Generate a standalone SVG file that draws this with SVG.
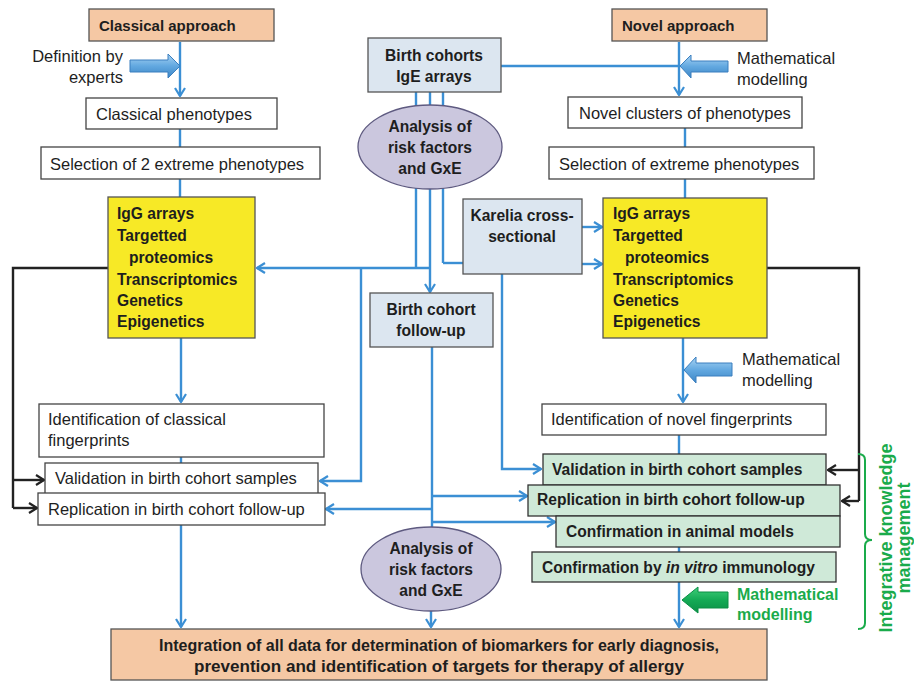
<svg xmlns="http://www.w3.org/2000/svg" width="914" height="683" viewBox="0 0 914 683">
<style>
text{font-family:"Liberation Sans",Arial,sans-serif;fill:#1e1e1e}
.r{font-size:16.5px}
.b{font-size:15.6px;font-weight:bold}
.h{font-size:15px;font-weight:bold}
.c{text-anchor:middle}
.peach{fill:#f5c8a4;stroke:#555;stroke-width:1.3}
.wh{fill:#fff;stroke:#444;stroke-width:1.3}
.lb{fill:#dce6f0;stroke:#555;stroke-width:1.3}
.ye{fill:#f7e926;stroke:#555;stroke-width:1.3}
.gr{fill:#cfe9d8;stroke:#333;stroke-width:1.3}
.el{fill:#cbc7de;stroke:#5e5a80;stroke-width:1.3}
.bl{fill:none;stroke:#3b8fd4;stroke-width:2.4}
.bk{fill:none;stroke:#222;stroke-width:2.4}
.gt{fill:#1aab4b;font-weight:bold}
</style>
<defs>
<marker id="ab" viewBox="0 0 10 12" refX="9" refY="6" markerWidth="10" markerHeight="12" markerUnits="userSpaceOnUse" orient="auto"><path d="M1,1 L9,6 L1,11" fill="none" stroke="#3b8fd4" stroke-width="2.2"/></marker>
<marker id="ak" viewBox="0 0 10 12" refX="9" refY="6" markerWidth="10" markerHeight="12" markerUnits="userSpaceOnUse" orient="auto"><path d="M1,1 L9,6 L1,11" fill="none" stroke="#222" stroke-width="2.2"/></marker>
<linearGradient id="gb" x1="0" y1="0" x2="0" y2="1"><stop offset="0" stop-color="#a8d3f3"/><stop offset="0.5" stop-color="#62a8e0"/><stop offset="1" stop-color="#3d86c6"/></linearGradient>
<linearGradient id="gg" x1="0" y1="0" x2="0" y2="1"><stop offset="0" stop-color="#3fcf7a"/><stop offset="0.5" stop-color="#14aa55"/><stop offset="1" stop-color="#0a8f45"/></linearGradient>
</defs>

<g id="connectors">
<path class="bl" d="M180,42 V96" marker-end="url(#ab)"/>
<path class="bl" d="M180,129 V147 M180,179 V197"/>
<path class="bl" d="M181,338 V402" marker-end="url(#ab)"/>
<path class="bl" d="M181,457 V463"/>
<path class="bl" d="M181,525 V627" marker-end="url(#ab)"/>
<path class="bl" d="M679,42 V95" marker-end="url(#ab)"/>
<path class="bl" d="M501,66 H679"/>
<path class="bl" d="M685,128 V147 M685,179 V198"/>
<path class="bl" d="M683,338 V402" marker-end="url(#ab)"/>
<path class="bl" d="M679,435 V454 M679,547 V552"/>
<path class="bl" d="M679,582 V627" marker-end="url(#ab)"/>
<path class="bl" d="M416,92 V268 M430,92 V268 M443,92 V263"/>
<path class="bl" d="M430,268 H257" marker-end="url(#ab)"/>
<path class="bl" d="M430,268 V292" marker-end="url(#ab)"/>
<path class="bl" d="M361,268 V481 H320" marker-end="url(#ab)"/>
<path class="bl" d="M443,263 H463"/>
<path class="bl" d="M582,227 H602" marker-end="url(#ab)"/>
<path class="bl" d="M582,264 H602" marker-end="url(#ab)"/>
<path class="bl" d="M502,274 V469 H541" marker-end="url(#ab)"/>
<path class="bl" d="M432,347 V530"/>
<path class="bl" d="M432,496 H527" marker-end="url(#ab)"/>
<path class="bl" d="M432,509 H326" marker-end="url(#ab)"/>
<path class="bl" d="M432,522 H555" marker-end="url(#ab)"/>
<path class="bl" d="M431,611 V627" marker-end="url(#ab)"/>
<path class="bk" d="M108,268 H13 V508"/>
<path class="bk" d="M13,480 H44" marker-end="url(#ak)"/>
<path class="bk" d="M13,508 H37" marker-end="url(#ak)"/>
<path class="bk" d="M767,268 H859 V501"/>
<path class="bk" d="M859,470 H828" marker-end="url(#ak)"/>
<path class="bk" d="M859,501 H842" marker-end="url(#ak)"/>
</g>

<g id="arrow-experts">
<path d="M130,60 H168 V54 L180,66 L168,78 V72 H130 Z" fill="url(#gb)" stroke="#3a7fbf" stroke-width="1"/>
<text class="r" x="123" y="62" text-anchor="end">Definition by</text>
<text class="r" x="123" y="83" text-anchor="end">experts</text>
</g>
<g id="arrow-math1">
<path d="M728,61 H691 V55 L680,66 L691,78 V72 H728 Z" fill="url(#gb)" stroke="#3a7fbf" stroke-width="1"/>
<text class="r" x="737" y="64">Mathematical</text>
<text class="r" x="737" y="85">modelling</text>
</g>
<g id="arrow-math2">
<path d="M732,363 H696 V357 L684,370 L696,383 V376 H732 Z" fill="url(#gb)" stroke="#3a7fbf" stroke-width="1"/>
<text class="r" x="742" y="365">Mathematical</text>
<text class="r" x="742" y="386">modelling</text>
</g>
<g id="arrow-math3">
<path d="M728,592 H698 V587 L682,600 L698,613 V608 H728 Z" fill="url(#gg)" stroke="#0a8f45" stroke-width="1"/>
<text class="gt" x="737" y="600" font-size="16">Mathematical</text>
<text class="gt" x="737" y="620" font-size="16">modelling</text>
</g>

<g id="classical-approach"><rect class="peach" x="89" y="9" width="185" height="32"/><text class="h" x="99" y="31">Classical approach</text></g>
<g id="novel-approach"><rect class="peach" x="612" y="9" width="155" height="32"/><text class="h" x="622" y="31">Novel approach</text></g>
<g id="classical-phenotypes"><rect class="wh" x="86" y="98" width="191" height="31"/><text class="r" x="96" y="120">Classical phenotypes</text></g>
<g id="selection-2"><rect class="wh" x="41" y="147" width="279" height="32"/><text class="r" x="50" y="170">Selection of 2 extreme phenotypes</text></g>
<g id="novel-clusters"><rect class="wh" x="568" y="97" width="234" height="31"/><text class="r" x="579" y="119">Novel clusters of phenotypes</text></g>
<g id="selection-extreme"><rect class="wh" x="549" y="147" width="265" height="32"/><text class="r" x="559" y="170">Selection of extreme phenotypes</text></g>
<g id="birth-cohorts"><rect class="lb" x="368" y="38" width="133" height="54"/><text class="b c" x="434" y="61">Birth cohorts</text><text class="b c" x="434" y="82">IgE arrays</text></g>
<g id="analysis-top"><ellipse class="el" cx="430" cy="147" rx="72" ry="42"/><text class="b c" x="430" y="132">Analysis of</text><text class="b c" x="430" y="153">risk factors</text><text class="b c" x="430" y="174">and GxE</text></g>
<g id="omics-left"><rect class="ye" x="108" y="197" width="147" height="141"/>
<text class="b" x="117" y="219">IgG arrays</text><text class="b" x="117" y="241">Targetted</text><text class="b" x="129" y="263">proteomics</text><text class="b" x="117" y="285">Transcriptomics</text><text class="b" x="117" y="306">Genetics</text><text class="b" x="117" y="327">Epigenetics</text></g>
<g id="omics-right"><rect class="ye" x="603" y="198" width="164" height="140"/>
<text class="b" x="613" y="219">IgG arrays</text><text class="b" x="613" y="241">Targetted</text><text class="b" x="625" y="263">proteomics</text><text class="b" x="613" y="285">Transcriptomics</text><text class="b" x="613" y="306">Genetics</text><text class="b" x="613" y="327">Epigenetics</text></g>
<g id="karelia"><rect class="lb" x="463" y="199" width="119" height="75"/><text class="b c" x="522" y="221">Karelia cross-</text><text class="b c" x="522" y="242">sectional</text></g>
<g id="birth-followup"><rect class="lb" x="370" y="293" width="123" height="54"/><text class="b c" x="431" y="315">Birth cohort</text><text class="b c" x="431" y="336">follow-up</text></g>
<g id="ident-classical"><rect class="wh" x="39" y="404" width="285" height="53"/><text class="r" x="48" y="425">Identification of classical</text><text class="r" x="48" y="446">fingerprints</text></g>
<g id="valid-left"><rect class="wh" x="45" y="463" width="273" height="31"/><text class="r" x="55" y="484">Validation in birth cohort samples</text></g>
<g id="repl-left"><rect class="wh" x="38" y="493" width="287" height="32"/><text class="r" x="48" y="515">Replication in birth cohort follow-up</text></g>
<g id="ident-novel"><rect class="wh" x="542" y="404" width="284" height="31"/><text class="r" x="551" y="425">Identification of novel fingerprints</text></g>
<g id="valid-green"><rect class="gr" x="543" y="454" width="283" height="31"/><text class="b" x="552" y="475">Validation in birth cohort samples</text></g>
<g id="repl-green"><rect class="gr" x="528" y="485" width="312" height="31"/><text class="b" x="537" y="505">Replication in birth cohort follow-up</text></g>
<g id="conf-animal"><rect class="gr" x="556" y="516" width="284" height="31"/><text class="b" x="566" y="537">Confirmation in animal models</text></g>
<g id="conf-vitro"><rect class="gr" x="532" y="552" width="304" height="30"/><text class="b" x="542" y="573">Confirmation by <tspan font-style="italic">in vitro</tspan> immunology</text></g>
<g id="analysis-bottom"><ellipse class="el" cx="431" cy="569" rx="70" ry="42"/><text class="b c" x="431" y="554">Analysis of</text><text class="b c" x="431" y="575">risk factors</text><text class="b c" x="431" y="596">and GxE</text></g>
<g id="integration"><rect class="peach" x="111" y="629" width="656" height="51"/>
<text class="b c" x="439" y="651" textLength="560" lengthAdjust="spacingAndGlyphs">Integration of all data for determination of biomarkers for early diagnosis,</text>
<text class="b c" x="439" y="672" textLength="490" lengthAdjust="spacingAndGlyphs">prevention and identification of targets for therapy of allergy</text></g>
<g id="knowledge-bracket">
<path d="M858,454 Q865,454 865,460 V534 Q865,540 872,540 Q865,540 865,546 V623 Q865,629 858,629" fill="none" stroke="#1aab4b" stroke-width="2"/>
<text class="gt c" font-size="18" transform="translate(892,538) rotate(-90)">Integrative knowledge</text>
<text class="gt c" font-size="18" transform="translate(910,538) rotate(-90)">management</text>
</g>
</svg>
